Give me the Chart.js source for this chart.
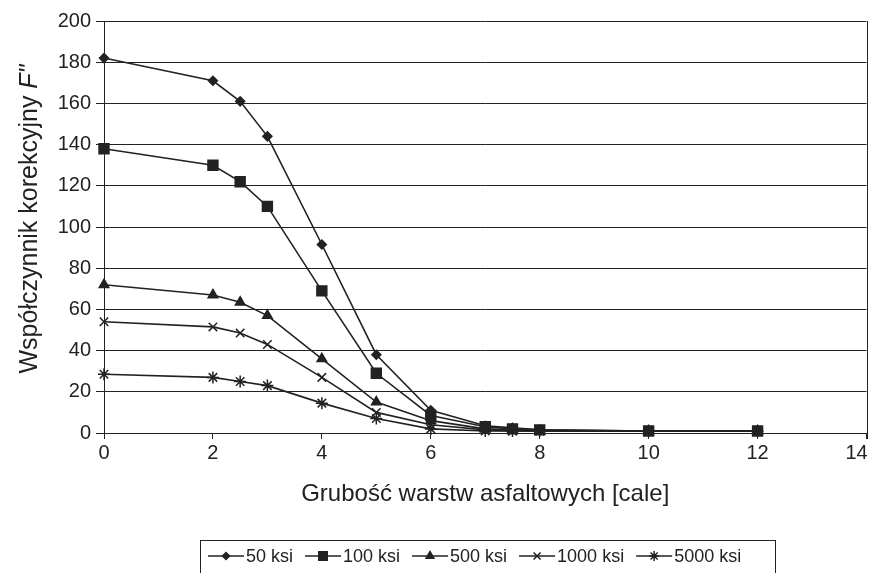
<!DOCTYPE html>
<html>
<head>
<meta charset="utf-8">
<script src="https://cdn.jsdelivr.net/npm/chart.js@4/dist/chart.umd.min.js"></script>
<style>
  html, body { margin: 0; padding: 0; background: #fff; }
  #wrap { width: 875px; height: 573px; }
</style>
</head>
<body>
<div id="wrap"><canvas id="chart"></canvas></div>
<script>
// thickness of asphalt layers [inches]
const thickness = [0, 2, 2.5, 3, 4, 5, 6, 7, 7.5, 8, 10, 12];

const ksi50   = [182, 171, 161, 144, 91.5, 38, 11, 3.5, 2.5, 1.5, 1, 1];
const ksi100  = [138, 130, 122, 110, 69, 29, 8.5, 3, 2, 1.5, 1, 1];
const ksi500  = [72, 67, 63.5, 57, 36, 15, 6, 2, 1.5, 1, 1, 1];
const ksi1000 = [54, 51.5, 48.5, 43, 27, 10, 4, 1.5, 1, 1, 1, 1];
const ksi5000 = [28.5, 27, 25, 23, 14.5, 7, 2, 1, 1, 1, 1, 1];

const seriesNames = ['50 ksi', '100 ksi', '500 ksi', '1000 ksi', '5000 ksi'];
const xTicks = [0, 2, 4, 6, 8, 10, 12, 14];
const yTicks = [0, 20, 40, 60, 80, 100, 120, 140, 160, 180, 200];

const xTitle = 'Grubość warstw asfaltowych [cale]';
const yTitle = 'Współczynnik korekcyjny ';
const yTitleItalic = 'F"';

const FONT = '"Liberation Sans", Arial, sans-serif';
const INK = '#222';

const styles = [
  { pointStyle: 'rectRot', radius: 4.5, legendR: 3.5 },
  { pointStyle: 'rect', radius: 7, legendR: 6 },
  { pointStyle: 'triangle', radius: 5.5, legendR: 4.5 },
  { pointStyle: 'crossRot', radius: 6, legendR: 5 },
  { pointStyle: 'star', radius: 6, legendR: 5 }
];

function pts(vals) {
  return vals.map((v, i) => ({ x: thickness[i], y: v }));
}

const allSeries = [ksi50, ksi100, ksi500, ksi1000, ksi5000];

const datasets = allSeries.map((vals, i) => ({
  label: seriesNames[i],
  data: pts(vals),
  borderColor: INK,
  backgroundColor: INK,
  borderWidth: 1.6,
  pointStyle: styles[i].pointStyle,
  pointRadius: styles[i].radius,
  pointBorderColor: INK,
  pointBackgroundColor: INK,
  pointBorderWidth: 1.5,
  tension: 0,
  clip: false
}));

const extras = {
  id: 'extras',
  afterDraw(chart) {
    const ctx = chart.ctx;
    const a = chart.chartArea;
    ctx.save();

    // right frame line
    ctx.strokeStyle = INK;
    ctx.lineWidth = 1;
    ctx.beginPath();
    ctx.moveTo(Math.round(a.right) + 0.5, a.top);
    ctx.lineTo(Math.round(a.right) + 0.5, a.bottom + 6);
    ctx.stroke();

    ctx.fillStyle = INK;
    ctx.textBaseline = 'middle';

    // x title
    ctx.font = '24px ' + FONT;
    ctx.textAlign = 'center';
    ctx.fillText(xTitle, (a.left + a.right) / 2, 494);

    // y title with italic F"
    ctx.save();
    ctx.translate(30, 219);
    ctx.rotate(-Math.PI / 2);
    ctx.font = '25px ' + FONT;
    const w1 = ctx.measureText(yTitle).width;
    ctx.font = 'italic 25px ' + FONT;
    const w2 = ctx.measureText(yTitleItalic).width;
    const x0 = -(w1 + w2) / 2;
    ctx.textAlign = 'left';
    ctx.font = '25px ' + FONT;
    ctx.fillText(yTitle, x0, 0);
    ctx.font = 'italic 25px ' + FONT;
    ctx.fillText(yTitleItalic, x0 + w1, 0);
    ctx.restore();

    // legend box
    const bx = 200, by = 540, bw = 575, bh = 45;
    ctx.strokeStyle = INK;
    ctx.lineWidth = 1;
    ctx.strokeRect(bx + 0.5, by + 0.5, bw, bh);
    ctx.font = '18px ' + FONT;
    ctx.textAlign = 'left';
    let x = 208;
    const y = by + 16;
    chart.data.datasets.forEach((ds, i) => {
      ctx.strokeStyle = INK;
      ctx.lineWidth = 1.5;
      ctx.beginPath();
      ctx.moveTo(x, y);
      ctx.lineTo(x + 36, y);
      ctx.stroke();
      ctx.fillStyle = INK;
      Chart.helpers.drawPoint(ctx, {
        pointStyle: ds.pointStyle,
        radius: styles[i].legendR,
        rotation: 0,
        borderWidth: 1.3
      }, x + 18, y);
      ctx.fillStyle = INK;
      ctx.fillText(ds.label, x + 38, y + 1);
      x += 38 + ctx.measureText(ds.label).width + 12;
    });
    ctx.restore();
  }
};

new Chart(document.getElementById('chart'), {
  type: 'line',
  data: { datasets: datasets },
  plugins: [extras],
  options: {
    responsive: true,
    maintainAspectRatio: false,
    animation: false,
    layout: { padding: { top: 21, right: 7, left: 0, bottom: 0 } },
    plugins: {
      legend: { display: false },
      tooltip: { enabled: false }
    },
    scales: {
      x: {
        type: 'linear',
        min: 0,
        max: 14,
        afterBuildTicks: s => { s.ticks = xTicks.map(v => ({ value: v })); },
        afterFit: s => { s.height = 140; s.paddingRight = 0; s.paddingLeft = 0; },
        grid: { drawOnChartArea: false, drawTicks: true, tickLength: 6, color: INK },
        border: { display: true, color: INK, width: 1 },
        ticks: {
          color: INK,
          font: { family: FONT, size: 20 },
          padding: 2,
          maxRotation: 0,
          callback: v => (v === 14 ? '14\u2002\u2002' : String(v))
        }
      },
      y: {
        min: 0,
        max: 200,
        afterBuildTicks: s => { s.ticks = yTicks.map(v => ({ value: v })); },
        afterFit: s => { s.width = 104; s.paddingTop = 0; s.paddingBottom = 0; },
        grid: { color: INK, lineWidth: 1, tickLength: 8 },
        border: { display: true, color: INK, width: 1 },
        ticks: { color: INK, font: { family: FONT, size: 20 }, padding: 5 }
      }
    }
  }
});
</script>
</body>
</html>
